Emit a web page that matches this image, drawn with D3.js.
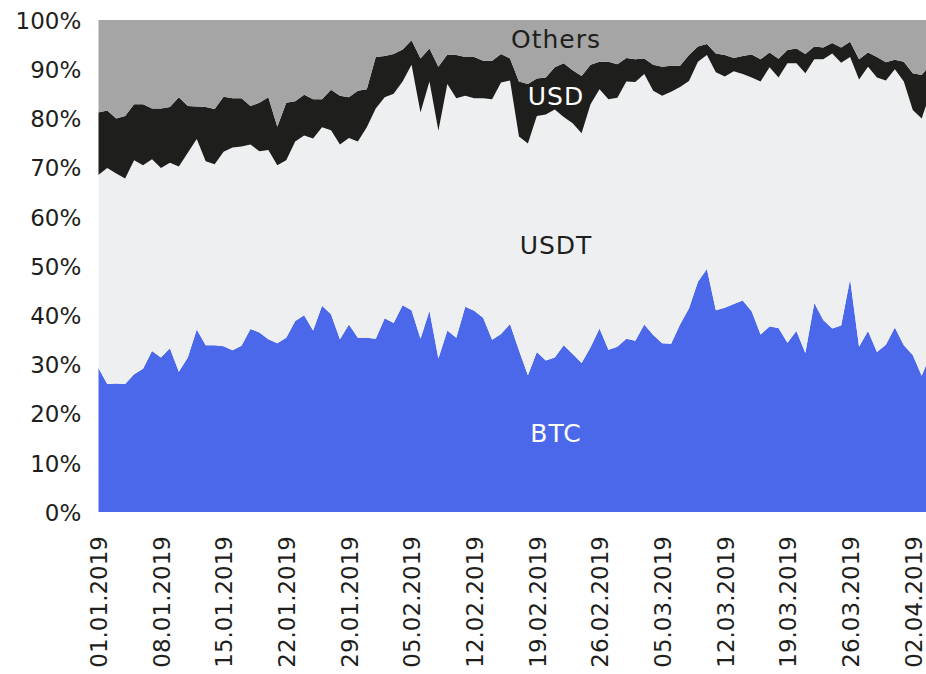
<!DOCTYPE html>
<html>
<head>
<meta charset="utf-8">
<script src="https://cdn.jsdelivr.net/npm/d3@7"></script>
<style>
  body { margin: 0; background: #fff; }
  svg { display: block; font-family: "DejaVu Sans", sans-serif; }
</style>
</head>
<body>
<script>
// daily shares of trading volume, %, starting 01.01.2019
let startDate = new Date(2019, 0, 1);

let btc = [29.3, 26.0, 26.1, 26.0, 28.0, 29.1, 32.7, 31.4, 33.3, 28.5,
  31.4, 37.1, 33.9, 33.9, 33.7, 32.9, 33.8, 37.2, 36.5, 35.1,
  34.3, 35.4, 38.8, 40.0, 36.9, 41.9, 40.2, 35.1, 38.1, 35.4,
  35.4, 35.2, 39.4, 38.4, 42.0, 41.0, 35.2, 40.9, 31.2, 36.9,
  35.4, 41.7, 40.9, 39.5, 35.0, 36.2, 38.2, 32.9, 27.8, 32.5,
  30.8, 31.4, 33.9, 32.1, 30.3, 33.5, 37.3, 33.0, 33.6, 35.2,
  34.8, 38.1, 36.0, 34.3, 34.2, 38.1, 41.4, 46.8, 49.4, 41.0,
  41.5, 42.3, 43.0, 40.8, 36.1, 37.7, 37.4, 34.4, 36.8, 32.3,
  42.5, 39.0, 37.3, 37.9, 47.3, 33.6, 36.8, 32.5, 34.0, 37.5,
  33.9, 31.9, 27.7, 32.1];

let usdt = [39.2, 43.9, 42.7, 41.8, 43.5, 41.4, 39.0, 38.5, 37.7, 41.7,
  41.6, 38.7, 37.4, 36.8, 39.5, 41.2, 40.5, 37.5, 36.8, 38.5,
  36.2, 36.1, 36.5, 36.5, 39.0, 36.3, 37.4, 39.6, 37.9, 39.9,
  42.8, 46.8, 44.9, 46.6, 45.5, 49.9, 46.0, 46.6, 46.3, 50.1,
  48.7, 42.9, 43.2, 44.6, 48.9, 51.1, 49.5, 43.4, 47.1, 48.0,
  50.0, 50.4, 46.4, 46.9, 46.7, 49.4, 48.6, 50.9, 50.6, 52.3,
  52.6, 50.9, 49.6, 50.3, 51.2, 48.3, 46.2, 44.7, 43.5, 48.4,
  47.0, 47.3, 46.0, 47.5, 51.4, 52.7, 50.9, 56.8, 54.4, 56.9,
  49.5, 53.0, 55.9, 53.4, 45.2, 54.3, 53.7, 55.8, 53.7, 52.5,
  53.6, 49.8, 52.3, 53.2];

let usd = [12.7, 11.7, 11.2, 12.7, 11.4, 12.4, 10.3, 12.1, 11.3, 14.1,
  9.5, 6.6, 11.0, 11.2, 11.2, 10.0, 9.8, 7.8, 9.9, 10.7,
  7.8, 11.7, 8.2, 8.3, 8.0, 5.7, 8.2, 9.9, 8.3, 10.3,
  7.7, 10.5, 8.4, 8.1, 6.5, 5.0, 11.0, 6.7, 13.0, 6.0,
  8.8, 7.9, 8.4, 7.6, 7.8, 5.8, 4.5, 11.2, 12.1, 7.6,
  7.5, 8.6, 10.9, 10.8, 11.6, 8.0, 5.6, 7.6, 6.8, 4.8,
  4.6, 3.2, 5.3, 5.9, 5.3, 4.3, 5.3, 3.1, 2.2, 3.8,
  4.4, 2.7, 3.7, 4.7, 4.5, 3.0, 3.8, 2.7, 3.0, 3.9,
  2.6, 2.4, 2.1, 3.1, 3.1, 4.1, 2.9, 4.2, 3.7, 1.9,
  4.0, 7.5, 8.8, 5.8];

let others = [18.8, 18.4, 20.0, 19.5, 17.1, 17.1, 18.0, 18.0, 17.7, 15.7,
  17.5, 17.6, 17.7, 18.1, 15.6, 15.9, 15.9, 17.5, 16.8, 15.7,
  21.7, 16.8, 16.5, 15.2, 16.1, 16.1, 14.2, 15.4, 15.7, 14.4,
  14.1, 7.5, 7.3, 6.9, 6.0, 4.1, 7.8, 5.8, 9.5, 7.0,
  7.1, 7.5, 7.5, 8.3, 8.3, 6.9, 7.8, 12.5, 13.0, 11.9,
  11.7, 9.6, 8.8, 10.2, 11.4, 9.1, 8.5, 8.5, 9.0, 7.7,
  8.0, 7.8, 9.1, 9.5, 9.3, 9.3, 7.1, 5.4, 4.9, 6.8,
  7.1, 7.7, 7.3, 7.0, 8.0, 6.6, 7.9, 6.1, 5.8, 6.9,
  5.4, 5.6, 4.7, 5.6, 4.4, 8.0, 6.6, 7.5, 8.6, 8.1,
  8.5, 10.8, 11.2, 8.9];

let keys = ["BTC", "USDT", "USD", "Others"];
let colours = ["#4b68ea", "#eeeff1", "#1e1e1c", "#a5a5a5"];
let labelColours = ["#ffffff", "#1e1e1c", "#ffffff", "#1e1e1c"];
let yTicks = [0, 0.1, 0.2, 0.3, 0.4, 0.5, 0.6, 0.7, 0.8, 0.9, 1];

// set the dimension variables
let width = 926;
let height = 674;
let plotLeft = 98.3;
let dayWidth = 8.95;
let plotTop = 20;
let plotBottom = 512;

let data = btc.map((d, i) => ({
  date: d3.timeDay.offset(startDate, i),
  BTC: d,
  USDT: usdt[i],
  USD: usd[i],
  Others: others[i],
}));

let series = d3.stack().keys(keys).offset(d3.stackOffsetExpand)(data);

let x = d3
  .scaleTime()
  .domain([startDate, data[data.length - 1].date])
  .range([plotLeft, plotLeft + (data.length - 1) * dayWidth]);

let y = d3.scaleLinear().domain([0, 1]).range([plotBottom, plotTop]);

let svg = d3
  .select("body")
  .append("svg")
  .attr("width", width)
  .attr("height", height);

svg.append("defs")
  .append("clipPath")
  .attr("id", "plot")
  .append("rect")
  .attr("x", plotLeft)
  .attr("y", plotTop)
  .attr("width", width - plotLeft)
  .attr("height", plotBottom - plotTop);

let area = d3
  .area()
  .x((d) => x(d.data.date))
  .y0((d) => y(d[0]))
  .y1((d) => y(d[1]));

svg
  .append("g")
  .attr("clip-path", "url(#plot)")
  .selectAll("path")
  .data(series)
  .join("path")
  .attr("fill", (d, i) => colours[i])
  .attr("d", area);

// series names inside the areas
let labelPos = [
  { x: 556, y: 433 },
  { x: 556, y: 245 },
  { x: 556, y: 96 },
  { x: 556, y: 39 },
];
svg
  .append("g")
  .attr("text-anchor", "middle")
  .attr("font-size", 25)
  .attr("letter-spacing", 1)
  .selectAll("text")
  .data(keys)
  .join("text")
  .attr("x", (d, i) => labelPos[i].x)
  .attr("y", (d, i) => labelPos[i].y)
  .attr("dy", "0.36em")
  .attr("fill", (d, i) => labelColours[i])
  .text((d) => d);

// y axis
let yAxis = d3
  .axisLeft(y)
  .tickValues(yTicks)
  .tickSize(0)
  .tickPadding(17)
  .tickFormat(d3.format(".0%"));

svg
  .append("g")
  .attr("transform", `translate(${plotLeft},1)`)
  .call(yAxis)
  .call((g) => g.select(".domain").remove())
  .call((g) =>
    g.selectAll("text")
      .attr("font-family", "DejaVu Sans, sans-serif")
      .attr("font-size", 23)
      .attr("fill", "#1e1e1c")
  );

// x axis, one label a week
let xTicks = data.filter((d, i) => i % 7 === 0 && i <= 91).map((d) => d.date);
let xAxis = d3
  .axisBottom(x)
  .tickValues(xTicks)
  .tickSize(0)
  .tickFormat(d3.timeFormat("%d.%m.%Y"));

svg
  .append("g")
  .attr("transform", `translate(0,${plotBottom})`)
  .call(xAxis)
  .call((g) => g.select(".domain").remove())
  .call((g) =>
    g.selectAll("text")
      .attr("font-family", "DejaVu Sans, sans-serif")
      .attr("font-size", 23)
      .attr("fill", "#1e1e1c")
      .attr("text-anchor", "end")
      .attr("transform", "rotate(-90)")
      .attr("x", -24)
      .attr("y", 0)
      .attr("dy", "0.36em")
  );
</script>
</body>
</html>
